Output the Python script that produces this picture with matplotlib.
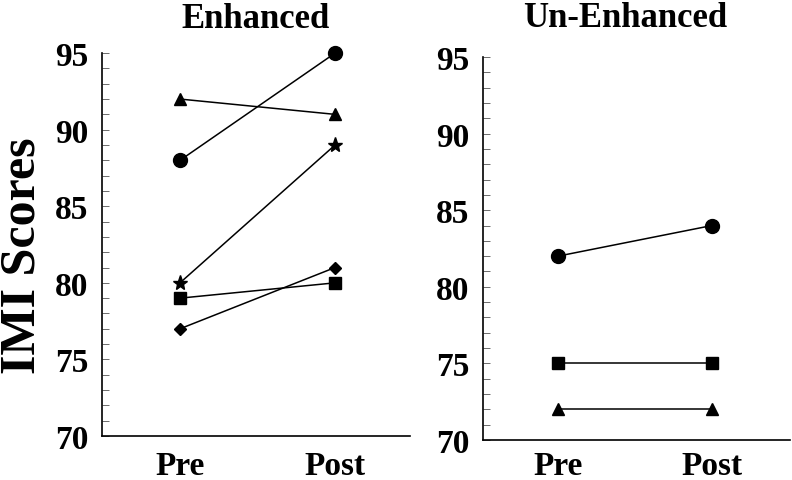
import matplotlib
matplotlib.use("Agg")
import matplotlib.pyplot as plt
from matplotlib.ticker import MultipleLocator

phases = ["Pre", "Post"]
panel_titles = ["Enhanced", "Un-Enhanced"]

enh_circle = [88, 95]
enh_triangle = [92, 91]
enh_star = [80, 89]
enh_square = [79, 80]
enh_diamond = [77, 81]

unenh_circle = [82, 84]
unenh_square = [75, 75]
unenh_triangle = [72, 72]

yticks = [70, 75, 80, 85, 90, 95]

plt.rcParams['font.family'] = ['Liberation Serif', 'DejaVu Serif']
plt.rcParams['font.weight'] = 'bold'

fig = plt.figure(figsize=(7.92, 4.81), dpi=100)
ax1 = fig.add_axes([0.1288, 0.0915, 0.389, 0.796])
ax2 = fig.add_axes([0.6098, 0.0832, 0.3876, 0.7962])

x = list(range(len(phases)))
lw = 1.1
def series(ax, y, marker, ms):
    ax.plot(x, y, color='black', lw=lw, marker=marker, ms=ms,
            markerfacecolor='black', markeredgecolor='black', clip_on=False)

series(ax1, enh_circle, 'o', 10)
series(ax1, enh_triangle, '^', 9)
series(ax1, enh_star, '*', 11)
series(ax1, enh_square, 's', 9)
series(ax1, enh_diamond, 'D', 6.5)

series(ax2, unenh_circle, 'o', 10)
series(ax2, unenh_square, 's', 9)
series(ax2, unenh_triangle, '^', 9)

for ax, xl, xpad in [(ax1, (-0.503, 1.484), 10), (ax2, (-0.487, 1.506), 7)]:
    ax.set_xlim(*xl)
    ax.set_ylim(70, 95)
    ax.set_xticks(x)
    ax.set_xticklabels(phases, fontsize=24, fontweight='bold')
    ax.set_yticks(yticks)
    ax.set_yticklabels([str(t) for t in yticks], fontsize=24, fontweight='bold')
    ax.yaxis.set_minor_locator(MultipleLocator(1))
    ax.tick_params(axis='y', which='both', direction='in', length=5, width=0.6, colors='#555555', labelcolor='black', pad=10)
    ax.tick_params(axis='x', length=0, pad=xpad)
    ax.spines['top'].set_visible(False)
    ax.spines['right'].set_visible(False)
    ax.spines['left'].set_linewidth(1.2)
    ax.spines['bottom'].set_linewidth(1.2)

ax1.set_title(panel_titles[0], fontsize=25, fontweight='bold', pad=19)
ax2.set_title(panel_titles[1], fontsize=25, fontweight='bold', pad=22, x=0.4625)

ax1.set_ylabel("IMI Scores", fontsize=36, fontweight='bold')
ax1.yaxis.set_label_coords(-0.183, 0.473)

fig.savefig("out.png", dpi=100)
